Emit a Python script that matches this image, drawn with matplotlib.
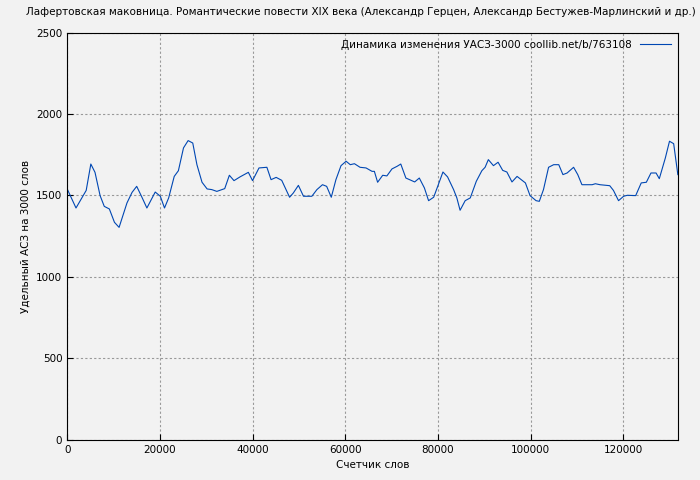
import matplotlib
matplotlib.use("Agg")
import matplotlib.pyplot as plt

TITLE = ("Лафертовская маковница. Романтические повести XIX века "
         "(Александр Герцен, Александр Бестужев-Марлинский и др.)")
LEGEND = "Динамика изменения УАСЗ-3000 coollib.net/b/763108"

# word counter (thousands) and value per 3000 words
words_k = [0, 1.9, 4.1, 5.1, 6.0, 7.1, 8.0, 9.1, 10.2, 11.2, 12.9, 14.0, 15.0,
           16.1, 17.2, 19.0, 20.1, 21.0, 21.9, 23.1, 24.0, 25.1, 26.1, 27.1,
           28.0, 29.1, 30.2, 31.2, 32.3, 34.0, 35.0, 36.0, 37.3, 39.1, 40.0,
           41.4, 43.1, 44.0, 45.1, 46.3, 48.0, 48.8, 49.9, 51.0, 52.8, 53.9,
           55.1, 56.0, 57.0, 58.0, 59.1, 60.2, 61.1, 62.0, 63.2, 64.5, 65.8,
           66.3, 67.0, 68.1, 69.0, 70.1, 71.2, 72.0, 73.1, 73.9, 75.0, 76.0,
           77.1, 78.0, 79.1, 80.1, 81.1, 82.1, 83.4, 84.1, 84.8, 85.9, 87.0,
           88.3, 89.5, 90.2, 90.9, 92.0, 93.0, 94.0, 94.9, 96.0, 97.1, 98.9,
           99.9, 101.2, 101.9, 102.8, 103.9, 105.0, 106.1, 107.0, 107.9, 109.3,
           110.2, 111.1, 113.3, 114.0, 115.0, 117.1, 117.9, 119.0, 120.1, 120.9,
           122.7, 123.9, 125.0, 126.0, 127.1, 127.8, 129.1, 130.0, 130.9, 131.8]
uasz = [1540, 1423, 1531, 1693, 1642, 1499, 1433, 1417, 1335, 1304, 1454, 1519,
        1556, 1491, 1423, 1521, 1495, 1423, 1485, 1617, 1652, 1792, 1837, 1822,
        1689, 1581, 1540, 1536, 1525, 1542, 1624, 1591, 1614, 1642, 1591, 1669,
        1673, 1597, 1611, 1593, 1489, 1515, 1562, 1495, 1495, 1536, 1566, 1556,
        1489, 1597, 1683, 1710, 1689, 1695, 1673, 1669, 1648, 1648, 1581, 1624,
        1620, 1663, 1679, 1693, 1607, 1597, 1583, 1607, 1546, 1468, 1489, 1566,
        1644, 1614, 1536, 1485, 1409, 1468, 1485, 1587, 1652, 1673, 1720, 1683,
        1704, 1654, 1644, 1583, 1617, 1577, 1499, 1468, 1464, 1536, 1673, 1689,
        1689, 1628, 1638, 1673, 1628, 1566, 1566, 1572, 1566, 1560, 1531, 1468,
        1495, 1501, 1499, 1577, 1581, 1638, 1638, 1603, 1730, 1833, 1818, 1628]

words = [w * 1000 for w in words_k]

plt.rcParams["font.family"] = "DejaVu Sans"
plt.rcParams["font.size"] = 7.5

fig = plt.figure(figsize=(7, 4.8), dpi=100, facecolor="#f2f2f2")
ax = fig.add_axes([0.096, 0.084, 0.873, 0.848])
ax.set_facecolor("#f2f2f2")

ax.plot(words, uasz, color="#0047b3", linewidth=0.8, label=LEGEND)
ax.set_xlim(0, 131900)
ax.set_ylim(0, 2500)
ax.set_xticks(range(0, 130000, 20000))
ax.set_yticks(range(0, 2501, 500))
ax.grid(True, color="#999999", linestyle=(0, (2, 2)), linewidth=0.8)
ax.tick_params(direction="in", length=4)

ax.set_xlabel("Счетчик слов")
ax.set_ylabel("Удельный АСЗ на 3000 слов")
# the reference title runs past the right edge of the image
fig.text(0.037, 0.975, TITLE, fontsize=7.5, ha="left", va="center")

ax.legend(loc="upper right", frameon=False, markerfirst=False,
          handlelength=3, borderaxespad=0.3)

fig.savefig("out.png", dpi=100, facecolor=fig.get_facecolor())
